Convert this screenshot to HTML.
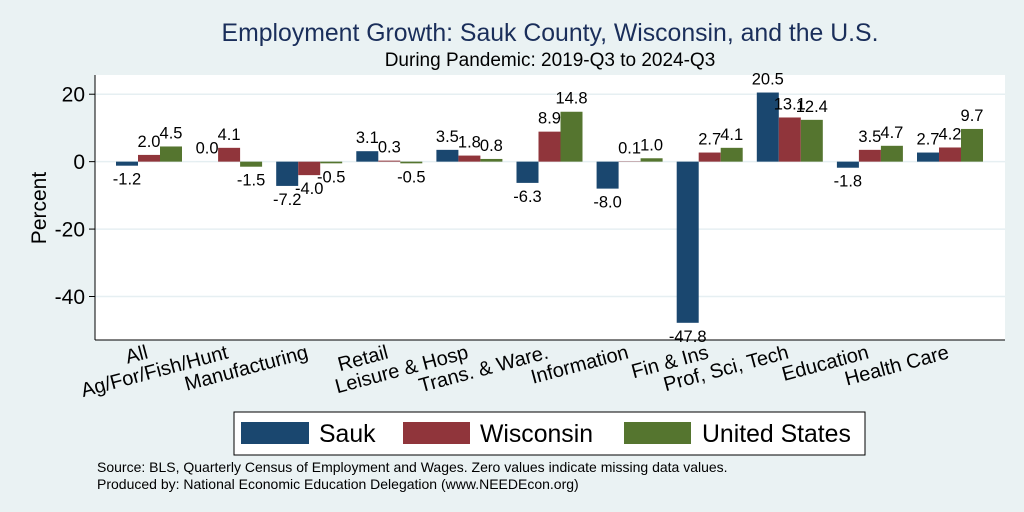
<!DOCTYPE html>
<html><head><meta charset="utf-8"><style>
body{margin:0;background:#eaf2f3;}
svg{display:block;font-family:"Liberation Sans",sans-serif;}
</style></head><body>
<svg id="c" width="1024" height="512">
<rect width="1024" height="512" fill="#eaf2f3"/>
<text x="550" y="41" text-anchor="middle" font-size="24.8" fill="#1a2e5a">Employment Growth: Sauk County, Wisconsin, and the U.S.</text>
<text x="550" y="66" text-anchor="middle" font-size="19" fill="#000">During Pandemic: 2019-Q3 to 2024-Q3</text>
<rect x="95" y="75" width="910" height="265" fill="#fff"/>
<g id="grid"></g><g id="bars"></g><g id="labels"></g><g id="axes"></g>
<text transform="translate(46,208) rotate(-90)" text-anchor="middle" font-size="21">Percent</text>
<g>
<rect x="234" y="412" width="631" height="43" fill="#fff" stroke="#000" stroke-width="1"/>
<rect x="241" y="422" width="68" height="22" fill="#1a476f"/>
<text x="319" y="442" font-size="24.8">Sauk</text>
<rect x="403" y="422" width="67" height="22" fill="#90353b"/>
<text x="480" y="442" font-size="24.8">Wisconsin</text>
<rect x="624" y="422" width="67" height="22" fill="#55752f"/>
<text x="702" y="442" font-size="24.8">United States</text>
</g>
<text x="97" y="472" font-size="14">Source: BLS, Quarterly Census of Employment and Wages. Zero values indicate missing data values.</text>
<text x="97" y="489" font-size="14">Produced by: National Economic Education Delegation (www.NEEDEcon.org)</text>
</svg>
<script>
const categories=["All","Ag/For/Fish/Hunt","Manufacturing","Retail","Leisure & Hosp","Trans. & Ware.","Information","Fin & Ins","Prof, Sci, Tech","Education","Health Care"];
const sauk=[-1.2,0.0,-7.2,3.1,3.5,-6.3,-8.0,-47.8,20.5,-1.8,2.7];
const wisconsin=[2.0,4.1,-4.0,0.3,1.8,8.9,0.1,2.7,13.1,3.5,4.2];
const us=[4.5,-1.5,-0.5,-0.5,0.8,14.8,1.0,4.1,12.4,4.7,9.7];
const yTicks=[20,0,-20,-40];
const NS="http://www.w3.org/2000/svg";
const yMin=-52.9,yMax=25.7,plotTop=75,plotBot=340,plotLeft=95,plotRight=1005;
function yScale(v){return plotBot-(v-yMin)/(yMax-yMin)*(plotBot-plotTop);}
function groupX(i){return 116+i*80.1;}
const bw=22;
function mk(tag,attrs,parent){const e=document.createElementNS(NS,tag);for(const k in attrs)e.setAttribute(k,attrs[k]);document.getElementById(parent).appendChild(e);return e;}
yTicks.forEach(t=>{
 const g=mk('line',{x1:plotLeft,x2:plotRight,y1:yScale(t),y2:yScale(t),stroke:'#e6eff2','stroke-width':1.5},'grid');
 
 
 const tk=mk('line',{x1:plotLeft-6,x2:plotLeft,y1:yScale(t),y2:yScale(t),stroke:'#000'},'axes');
 
 
 const tl=mk('text',{x:plotLeft-10,y:yScale(t)+7.5,'text-anchor':'end','font-size':21},'axes');
 tl.textContent=t;
 
 
});
const ax=mk('line',{x1:plotLeft,x2:plotLeft,y1:plotTop,y2:plotBot,stroke:'#000'},'axes');


const bx=mk('line',{x1:plotLeft,x2:plotRight,y1:plotBot,y2:plotBot,stroke:'#000'},'axes');


const series=[[sauk,'#1a476f','sauk'],[wisconsin,'#90353b','wisconsin'],[us,'#55752f','us']];
categories.forEach((c,i)=>{
 series.forEach(([vals,col,nm],s)=>{
  const v=vals[i],x0=groupX(i)+s*bw;
  const y0=Math.min(yScale(0),yScale(v)),h=Math.abs(yScale(v)-yScale(0));
  const r=mk('rect',{x:x0,y:y0,width:bw,height:Math.max(h,0.01),fill:col},'bars');
  
  
  const ly=v>=0?yScale(v)-8:yScale(v)+19;
  const t=mk('text',{x:x0+bw/2,y:ly,'text-anchor':'middle','font-size':16.5},'labels');
  t.textContent=v.toFixed(1);
  
  
 });
 const cx=groupX(i)+bw*1.5, cy=358;
 const xl=mk('text',{x:cx,y:cy,'text-anchor':'end','font-size':20,transform:`rotate(-15 ${cx} ${cy})`},'axes');
 xl.textContent=c;
 
 
});
</script>
</body></html>
